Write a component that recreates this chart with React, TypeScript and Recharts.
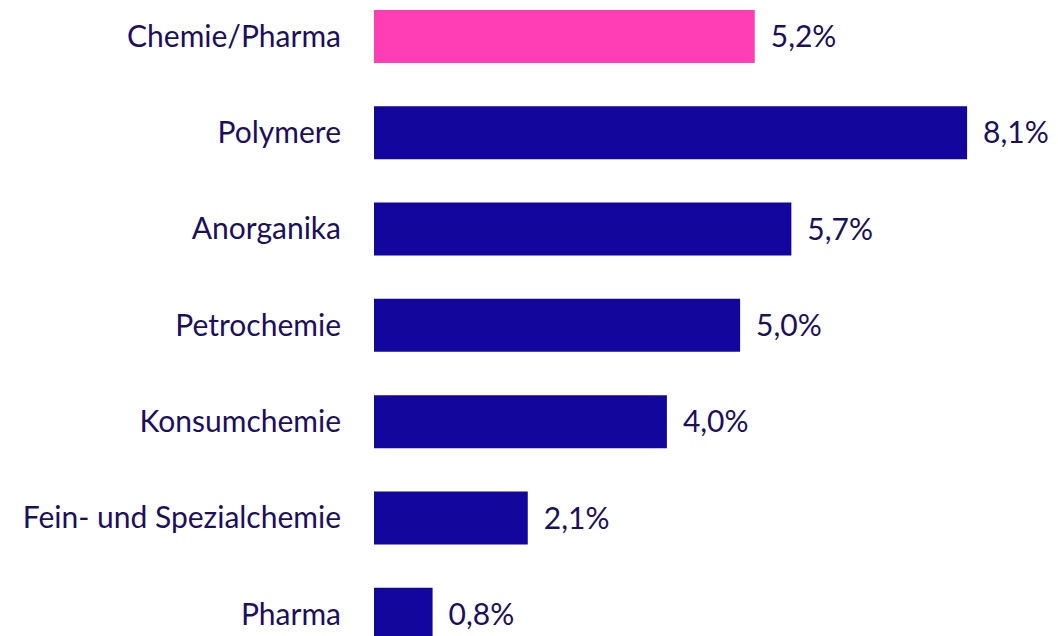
import React from "react";
import { BarChart, Bar, XAxis, YAxis, Cell, LabelList } from "recharts";

const categories = [
  "Chemie/Pharma",
  "Polymere",
  "Anorganika",
  "Petrochemie",
  "Konsumchemie",
  "Fein- und Spezialchemie",
  "Pharma",
];
const values = [5.2, 8.1, 5.7, 5.0, 4.0, 2.1, 0.8];
const highlight = [true, false, false, false, false, false, false];

const data = categories.map((name, i) => ({ name, value: values[i], hl: highlight[i] }));

const TEXT = "#1b0f5e";
const BAR = "#12069c";
const PINK = "#ff3eb5";
const FONT = "Lato, 'Open Sans', sans-serif";

const fmt = (v: any) => `${Number(v).toFixed(1).replace(".", ",")}%`;

export default function App() {
  return (
    <div style={{ position: "absolute", left: 0, top: -12 }}>
      <BarChart
        width={1058}
        height={674}
        data={data}
        layout="vertical"
        margin={{ top: 0, right: 25, bottom: 0, left: 0 }}
      >
        <XAxis type="number" domain={[0, 9]} hide />
        <YAxis
          type="category"
          dataKey="name"
          width={374}
          axisLine={false}
          tickLine={false}
          tickSize={0}
          tickMargin={33}
          interval={0}
          tick={{ fill: TEXT, fontSize: 30, fontFamily: FONT }}
        />
        <Bar dataKey="value" barSize={53} isAnimationActive={false}>
          {data.map((d, i) => (
            <Cell key={i} fill={d.hl ? PINK : BAR} />
          ))}
          <LabelList
            dataKey="value"
            position="right"
            offset={16}
            formatter={fmt}
            style={{ fill: TEXT, fontSize: 30, fontFamily: FONT }}
          />
        </Bar>
      </BarChart>
    </div>
  );
}
